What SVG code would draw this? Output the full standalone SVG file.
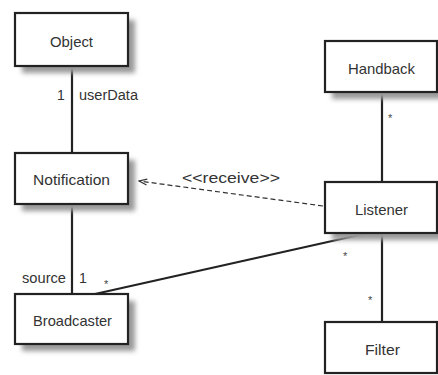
<svg xmlns="http://www.w3.org/2000/svg" width="438" height="375" viewBox="0 0 438 375">
<style>
  .box { fill: #fff; stroke: #222; stroke-width: 2.2; }
  .shadow { fill: #999; filter: url(#blur); }
  .t { font-family: "Liberation Sans", Arial, sans-serif; font-size: 15px; fill: #333; }
  .l { font-family: "Liberation Sans", Arial, sans-serif; font-size: 14px; fill: #333; }
  .s { font-family: "Liberation Sans", Arial, sans-serif; font-size: 11px; fill: #444; }
  .assoc { stroke: #222; stroke-width: 2.2; fill: none; }
  .dep { stroke: #333; stroke-width: 1.2; fill: none; stroke-dasharray: 5 3; }
</style>
<defs>
  <filter id="blur" x="-20%" y="-20%" width="140%" height="140%">
    <feGaussianBlur stdDeviation="2.5"/>
  </filter>
  <marker id="open" markerWidth="10" markerHeight="10" refX="9" refY="5" orient="auto" markerUnits="userSpaceOnUse">
    <path d="M1,2 L9,5 L1,8" fill="none" stroke="#333" stroke-width="1.2"/>
  </marker>
</defs>
<g id="connectors">
  <line class="assoc" x1="72" y1="66" x2="72" y2="153"/>
  <line class="assoc" x1="72" y1="204" x2="72" y2="294"/>
  <line class="assoc" x1="382" y1="92" x2="382" y2="182"/>
  <line class="assoc" x1="382" y1="233" x2="382" y2="322"/>
  <line class="assoc" x1="368" y1="233" x2="95" y2="294"/>
  <line class="dep" x1="323" y1="206" x2="139" y2="181" marker-end="url(#open)"/>
  <text class="l" x="57" y="100">1</text>
  <text class="l" x="79" y="100" textLength="59" lengthAdjust="spacingAndGlyphs">userData</text>
  <text class="l" x="182" y="183" textLength="98" lengthAdjust="spacingAndGlyphs">&lt;&lt;receive&gt;&gt;</text>
  <text class="l" x="22" y="283" textLength="44" lengthAdjust="spacingAndGlyphs">source</text>
  <text class="l" x="79" y="283">1</text>
  <text class="s" x="104" y="288">*</text>
  <text class="s" x="388" y="122">*</text>
  <text class="s" x="343" y="260">*</text>
  <text class="s" x="368" y="304">*</text>
</g>
<g id="object">
  <rect class="shadow" x="22" y="20" width="113" height="53"/>
  <rect class="box" x="15" y="13" width="113" height="53"/>
  <text class="t" x="50" y="47" textLength="43" lengthAdjust="spacingAndGlyphs">Object</text>
</g>
<g id="notification">
  <rect class="shadow" x="22" y="160" width="113" height="51"/>
  <rect class="box" x="15" y="153" width="113" height="51"/>
  <text class="t" x="33" y="185" textLength="77" lengthAdjust="spacingAndGlyphs">Notification</text>
</g>
<g id="broadcaster">
  <rect class="shadow" x="22" y="301" width="113" height="50"/>
  <rect class="box" x="15" y="294" width="113" height="50"/>
  <text class="t" x="33" y="326" textLength="79" lengthAdjust="spacingAndGlyphs">Broadcaster</text>
</g>
<g id="handback">
  <rect class="shadow" x="332" y="48" width="112" height="51"/>
  <rect class="box" x="325" y="41" width="112" height="51"/>
  <text class="t" x="348" y="74" textLength="67" lengthAdjust="spacingAndGlyphs">Handback</text>
</g>
<g id="listener">
  <rect class="shadow" x="332" y="189" width="112" height="51"/>
  <rect class="box" x="325" y="182" width="112" height="51"/>
  <text class="t" x="355" y="215" textLength="53" lengthAdjust="spacingAndGlyphs">Listener</text>
</g>
<g id="filter">
  <rect class="box" x="325" y="322" width="112" height="51"/>
  <text class="t" x="365" y="355" textLength="35" lengthAdjust="spacingAndGlyphs">Filter</text>
</g>
</svg>
